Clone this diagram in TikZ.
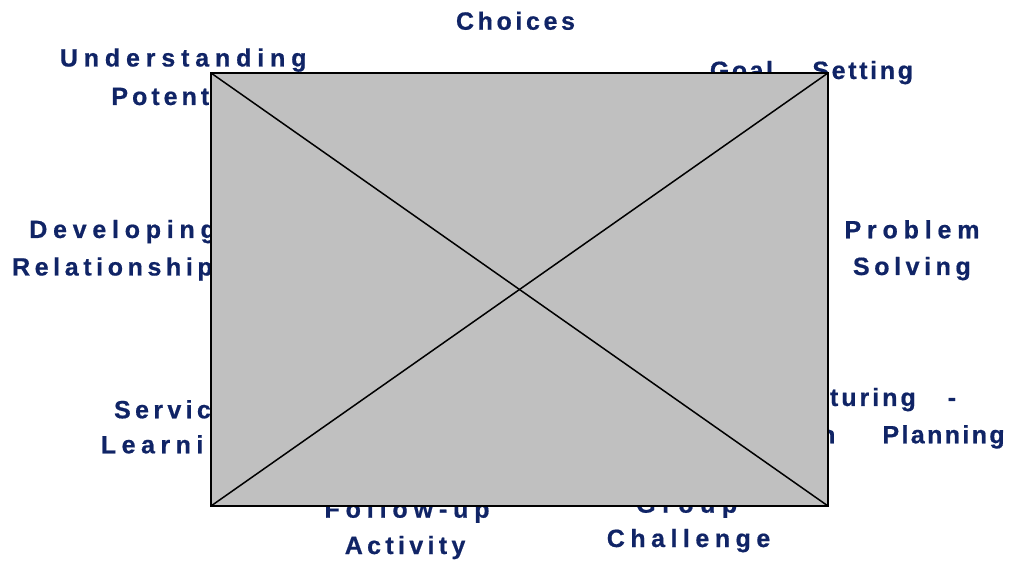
\documentclass[tikz,border=0pt]{standalone}
\usepackage{fontspec}
\newfontfamily\labelfamily{Liberation Sans}[FakeBold=0.6]
\definecolor{navy}{RGB}{16,36,102}
\definecolor{panel}{RGB}{192,192,192}
\tikzset{
  lbl/.style={anchor=base west, inner sep=0pt, outer sep=0pt, text=navy,
    font=\labelfamily\bfseries\fontsize{25}{30}\selectfont\addfontfeature{LetterSpace=#1}},
  panelbox/.style={draw=black, line width=2pt, fill=panel, inner sep=0pt, outer sep=0pt},
  cross/.style={draw=black, line width=1.5pt}
}
\begin{document}
\begin{tikzpicture}[x=1pt,y=-1pt]
\useasboundingbox (0,0) rectangle (1010,561);
% labels around the panel (partly hidden behind it)
\node[lbl=14.5] (choices) at (456,29.7) {Choices};
\node[lbl=23.4] (underst) at (59.9,66.5) {Understanding};
\node[lbl=16] (potential) at (111.4,105) {Potential};
\node[lbl=10] (goal) at (709.9,79) {Goal};
\node[lbl=10.6] (setting) at (812.4,79) {Setting};
\node[lbl=23] (developing) at (29.3,238) {Developing};
\node[lbl=18.4] (relations) at (12.1,275.5) {Relationships};
\node[lbl=23.3] (problem) at (844.5,238.3) {Problem};
\node[lbl=18.3] (solving) at (853,275) {Solving};
\node[lbl=17.4] (service) at (114.1,418.3) {Service};
\node[lbl=22] (learning) at (100.9,453.3) {Learning};
\node[lbl=12] (nurturing) at (777.9,406) {Nurturing\hspace{32pt}-};
\node[lbl=9.5] (action) at (745.8,443.3) {Action\hspace{47pt}Planning};
\node[lbl=23.5] (followup) at (324.5,517.7) {Follow-up};
\node[lbl=17.3] (activity) at (344.8,554) {Activity};
\node[lbl=26] (group) at (636.2,512.7) {Group};
\node[lbl=22] (challenge) at (606.8,547) {Challenge};
% grey panel with its crossed diagonals
\node[panelbox, minimum width=617pt, minimum height=433pt] (frame) at (519.5,289.5) {};
\draw[cross] (frame.north west) -- (frame.south east);
\draw[cross] (frame.south west) -- (frame.north east);
\end{tikzpicture}
\end{document}
